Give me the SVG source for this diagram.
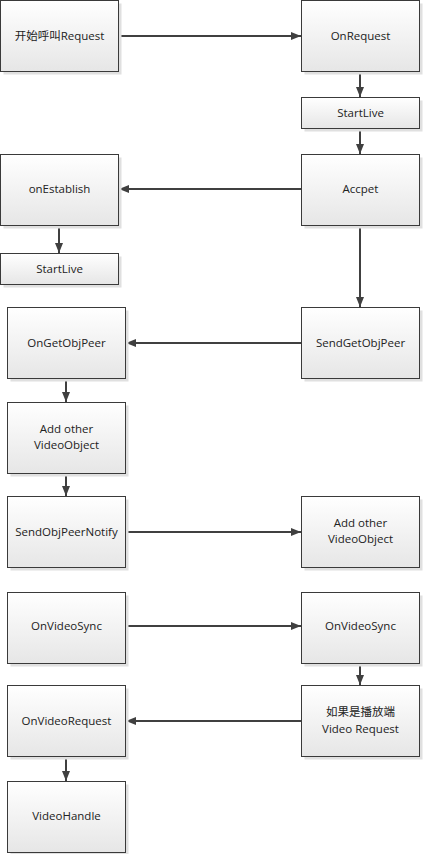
<svg xmlns="http://www.w3.org/2000/svg" width="423" height="854" viewBox="0 0 423 854">
<defs>
<linearGradient id="g" x1="0" y1="0" x2="0" y2="1">
<stop offset="0" stop-color="#ffffff"/>
<stop offset="1" stop-color="#e6e6e6"/>
</linearGradient>
<marker id="ah" markerWidth="10" markerHeight="8" refX="10" refY="4" orient="auto" markerUnits="userSpaceOnUse">
<path d="M0,0 L10,4 L0,8 Z" fill="#404040"/>
</marker>
<style>
.sh{fill:#e0e0e0;}
.bx{fill:url(#g);stroke:#3a3a3a;stroke-width:1;}
.t{font-family:"Open Sans","Noto Sans","Noto Sans CJK SC",sans-serif;font-size:11.5px;fill:#222;text-anchor:middle;}
.c{stroke:#404040;stroke-width:2;fill:none;marker-end:url(#ah);}
</style>
</defs>
<g id="connectors">
<line class="c" x1="119" y1="36" x2="301" y2="36"/>
<line class="c" x1="360" y1="72" x2="360" y2="97"/>
<line class="c" x1="360" y1="129" x2="360" y2="154"/>
<line class="c" x1="301" y1="189" x2="119" y2="189"/>
<line class="c" x1="59" y1="226" x2="59" y2="253"/>
<line class="c" x1="360" y1="226" x2="360" y2="307"/>
<line class="c" x1="301" y1="343" x2="126" y2="343"/>
<line class="c" x1="66" y1="379" x2="66" y2="402"/>
<line class="c" x1="66" y1="474" x2="66" y2="496"/>
<line class="c" x1="126" y1="532" x2="301" y2="532"/>
<line class="c" x1="126" y1="626" x2="301" y2="626"/>
<line class="c" x1="360" y1="663" x2="360" y2="685"/>
<line class="c" x1="301" y1="721" x2="126" y2="721"/>
<line class="c" x1="66" y1="758" x2="66" y2="781"/>
</g>
<g id="n1"><rect class="sh" x="3.5" y="3.5" width="118" height="71"/><rect class="bx" x="0.5" y="0.5" width="118" height="71"/><text class="t" x="59.5" y="40">开始呼叫Request</text></g>
<g id="n2"><rect class="sh" x="304.5" y="3.5" width="118" height="71"/><rect class="bx" x="301.5" y="0.5" width="118" height="71"/><text class="t" x="360.5" y="40">OnRequest</text></g>
<g id="n3"><rect class="sh" x="304.5" y="100.5" width="118" height="31"/><rect class="bx" x="301.5" y="97.5" width="118" height="31"/><text class="t" x="360.5" y="117">StartLive</text></g>
<g id="n4"><rect class="sh" x="304.5" y="157.5" width="118" height="71"/><rect class="bx" x="301.5" y="154.5" width="118" height="71"/><text class="t" x="360.5" y="193">Accpet</text></g>
<g id="n5"><rect class="sh" x="3.5" y="157.5" width="118" height="71"/><rect class="bx" x="0.5" y="154.5" width="118" height="71"/><text class="t" x="59.5" y="193">onEstablish</text></g>
<g id="n6"><rect class="sh" x="3.5" y="256.5" width="118" height="31"/><rect class="bx" x="0.5" y="253.5" width="118" height="31"/><text class="t" x="59.5" y="273">StartLive</text></g>
<g id="n7"><rect class="sh" x="304.5" y="310.5" width="118" height="71"/><rect class="bx" x="301.5" y="307.5" width="118" height="71"/><text class="t" x="360.5" y="347">SendGetObjPeer</text></g>
<g id="n8"><rect class="sh" x="10.5" y="310.5" width="118" height="71"/><rect class="bx" x="7.5" y="307.5" width="118" height="71"/><text class="t" x="66.5" y="347">OnGetObjPeer</text></g>
<g id="n9"><rect class="sh" x="10.5" y="405.5" width="118" height="71"/><rect class="bx" x="7.5" y="402.5" width="118" height="71"/><text class="t" x="66.5" y="433">Add other</text><text class="t" x="66.5" y="449">VideoObject</text></g>
<g id="n10"><rect class="sh" x="10.5" y="499.5" width="118" height="71"/><rect class="bx" x="7.5" y="496.5" width="118" height="71"/><text class="t" x="66.5" y="536">SendObjPeerNotify</text></g>
<g id="n11"><rect class="sh" x="304.5" y="499.5" width="118" height="71"/><rect class="bx" x="301.5" y="496.5" width="118" height="71"/><text class="t" x="360.5" y="527">Add other</text><text class="t" x="360.5" y="543">VideoObject</text></g>
<g id="n12"><rect class="sh" x="10.5" y="595.5" width="118" height="71"/><rect class="bx" x="7.5" y="592.5" width="118" height="71"/><text class="t" x="66.5" y="630">OnVideoSync</text></g>
<g id="n13"><rect class="sh" x="304.5" y="595.5" width="118" height="71"/><rect class="bx" x="301.5" y="592.5" width="118" height="71"/><text class="t" x="360.5" y="630">OnVideoSync</text></g>
<g id="n14"><rect class="sh" x="304.5" y="688.5" width="118" height="71"/><rect class="bx" x="301.5" y="685.5" width="118" height="71"/><text class="t" x="360.5" y="716">如果是播放端</text><text class="t" x="360.5" y="733">Video Request</text></g>
<g id="n15"><rect class="sh" x="10.5" y="688.5" width="118" height="71"/><rect class="bx" x="7.5" y="685.5" width="118" height="71"/><text class="t" x="66.5" y="725">OnVideoRequest</text></g>
<g id="n16"><rect class="sh" x="10.5" y="784.5" width="118" height="71"/><rect class="bx" x="7.5" y="781.5" width="118" height="71"/><text class="t" x="66.5" y="820">VideoHandle</text></g>
</svg>
